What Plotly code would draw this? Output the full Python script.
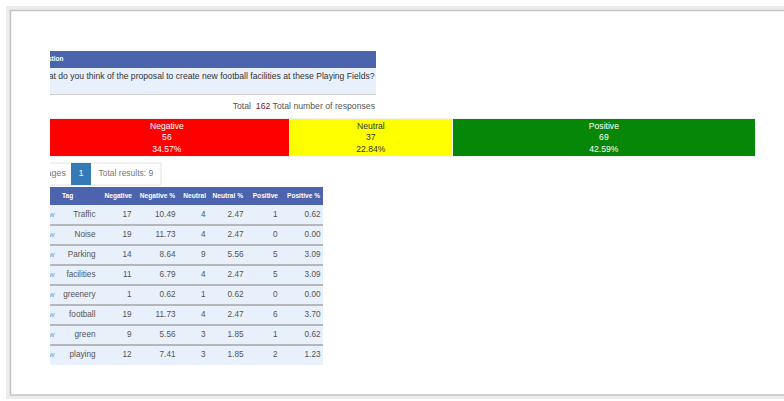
import plotly.graph_objects as go

# ---------------- data ----------------
question_label = "Question"
question = "What do you think of the proposal to create new football facilities at these Playing Fields?"
total_responses = 162
sentiments = ["Negative", "Neutral", "Positive"]
sentiment_counts = [56, 37, 69]
sentiment_pcts = [34.57, 22.84, 42.59]

pages_label = "Pages"
current_page = "1"
total_results = 9

columns = ["Tag", "Negative", "Negative %", "Neutral", "Neutral %", "Positive", "Positive %"]
tags = ["Traffic", "Noise", "Parking", "facilities", "greenery", "football", "green", "playing"]
negative = [17, 19, 14, 11, 1, 19, 9, 12]
negative_pct = [10.49, 11.73, 8.64, 6.79, 0.62, 11.73, 5.56, 7.41]
neutral = [4, 4, 9, 4, 1, 4, 3, 3]
neutral_pct = [2.47, 2.47, 5.56, 2.47, 0.62, 2.47, 1.85, 1.85]
positive = [1, 0, 5, 5, 0, 6, 1, 2]
positive_pct = [0.62, 0.00, 3.09, 3.09, 0.00, 3.70, 0.62, 1.23]
link_label = "View"

# ---------------- layout constants ----------------
W, H = 784, 401
FONT = "Arial, Liberation Sans, sans-serif"
BLUE = "#4b64ad"
ROWBG = "#e8f0fc"
CLIP_LEFT = 50

def pxx(x):
    return x / W

def pxy(y):
    return 1 - y / H

fig = go.Figure()

# ---------------- stacked sentiment bar ----------------
bar_colors = ["#ff0000", "#ffff00", "#078707"]
bar_text_colors = ["#ffffff", "#333333", "#ffffff"]
for name, cnt, pct, col, tcol in zip(sentiments, sentiment_counts, sentiment_pcts,
                                     bar_colors, bar_text_colors):
    fig.add_trace(go.Bar(
        x=[cnt], y=[138], width=[38], orientation="h",
        marker=dict(color=col, line=dict(color="#f2f2f2", width=1)),
        text=[f"{name}<br>{cnt}<br>{pct:.2f}%"],
        textposition="inside", insidetextanchor="middle", textangle=0,
        constraintext="none",
        textfont=dict(color=tcol, size=8.6, family=FONT),
        xaxis="x", yaxis="y", hoverinfo="skip", showlegend=False,
    ))

shapes = []

def rect(x0, y0, x1, y1, fill, line=None, lw=0, layer="below"):
    shapes.append(dict(type="rect", xref="x2", yref="y", x0=x0, x1=x1, y0=y0, y1=y1,
                       fillcolor=fill, line=dict(color=line or fill, width=lw),
                       layer=layer))

def hline(x0, x1, y, color, lw):
    shapes.append(dict(type="line", xref="x2", yref="y", x0=x0, x1=x1, y0=y, y1=y,
                       line=dict(color=color, width=lw), layer="below"))

def text(xs, ys, texts, pos, color, size, weight="normal"):
    fig.add_trace(go.Scatter(
        x=xs, y=ys, mode="text", text=texts, textposition=pos,
        textfont=dict(color=color, size=size, family=FONT, weight=weight),
        xaxis="x2", yaxis="y", hoverinfo="skip", showlegend=False,
    ))

# ---------------- question block ----------------
rect(0, 51, 376, 68, BLUE)
rect(0, 68, 376, 94, ROWBG)
hline(0, 376, 94.5, "#cfcfcf", 1)
text([63.5], [59.5], [question_label], "middle left", "#ffffff", 6.5, "bold")
text([374.5], [77], [question], "middle left", "#333333", 8.6)

# total line
text([375], [107], [f"Total&nbsp;&nbsp;<span style='color:#7a2020'>{total_responses}</span> Total number of responses"],
     "middle left", "#555555", 8.7)

# ---------------- pagination ----------------
rect(0, 163, 161, 185, "rgba(0,0,0,0)", "#e2e2e2", 1)
rect(71, 163, 91, 185, "#337ab7")
text([66], [174], [pages_label], "middle left", "#777777", 9)
text([81], [174], [current_page], "middle center", "#ffffff", 8.5)
text([98.5], [174], [f"Total results: {total_results}"], "middle right", "#777777", 8.5)

# ---------------- table ----------------
n = len(tags)
row_y = [215 + 20 * i for i in range(n)]
rect(0, 187, 323, 205, BLUE)
rect(0, 205, 323, 205 + 20 * n, ROWBG)
for i in range(1, n):
    hline(0, 323, 205 + 20 * i, "#a4a4a4", 1.5)

# header labels
text([62], [196], [columns[0]], "middle right", "#ffffff", 6.6, "bold")
header_right = [132, 175, 206, 243, 278, 320]
text(header_right, [196] * 6, columns[1:], "middle left", "#ffffff", 6.6, "bold")

# body cells
text([54.5] * n, row_y, [link_label] * n, "middle left", "#6d9fd8", 8)
text([95.5] * n, row_y, tags, "middle left", "#555555", 8.2)
cols_vals = [
    (131.5, [str(v) for v in negative]),
    (175.5, [f"{v:.2f}" for v in negative_pct]),
    (205.5, [str(v) for v in neutral]),
    (243.5, [f"{v:.2f}" for v in neutral_pct]),
    (277.5, [str(v) for v in positive]),
    (320.5, [f"{v:.2f}" for v in positive_pct]),
]
for xr, vals in cols_vals:
    text([xr] * n, row_y, vals, "middle left", "#555555", 8.2)

# ---------------- page frame (paper) ----------------
frame = [
    dict(type="rect", xref="paper", yref="paper", x0=pxx(8), x1=pxx(W + 20), y0=pxy(397), y1=pxy(8),
         line=dict(color="#ececec", width=4), fillcolor="rgba(0,0,0,0)", layer="below"),
    dict(type="rect", xref="paper", yref="paper", x0=pxx(10.5), x1=pxx(W + 20), y0=pxy(395), y1=pxy(10.5),
         line=dict(color="#c4c4c4", width=1.5), fillcolor="rgba(0,0,0,0)", layer="below"),
]
shapes = frame + shapes

# count-axis mapping so the bar sits where it does in the page
px_per_unit = 4.39
px_zero = 44.6
fig.update_layout(
    width=W, height=H, margin=dict(l=0, r=0, t=0, b=0),
    paper_bgcolor="#ffffff", plot_bgcolor="rgba(0,0,0,0)",
    barmode="stack", bargap=0, showlegend=False,
    xaxis=dict(domain=[CLIP_LEFT / W, 1],
               range=[(CLIP_LEFT - px_zero) / px_per_unit, (W - px_zero) / px_per_unit],
               visible=False, fixedrange=True),
    xaxis2=dict(overlaying="x", range=[CLIP_LEFT, W], visible=False, fixedrange=True),
    yaxis=dict(domain=[0, 1], range=[H, 0], visible=False, fixedrange=True),
    shapes=shapes,
)

fig.write_html("out.html", config={"displayModeBar": False},
               post_script="document.body.style.margin='0';document.body.style.overflow='hidden';")
